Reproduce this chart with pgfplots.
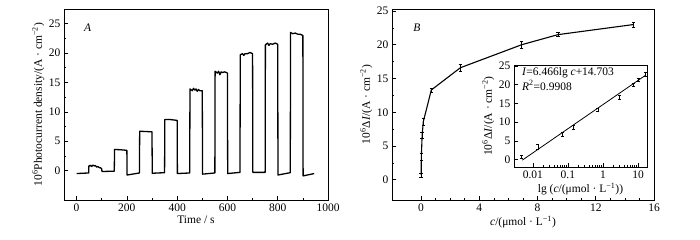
\documentclass[border=0pt]{standalone}
\usepackage{pgfplots}
\pgfplotsset{compat=1.18}
\usepackage{fontspec}
\setmainfont{Liberation Serif}
\begin{document}
\begin{tikzpicture}
\path[use as bounding box] (0pt,0pt) rectangle (700pt,240pt);
\pgfplotsset{every axis/.append style={scale only axis,
  font=\fontsize{11.5}{13}\selectfont,
  tick align=inside, tick pos=left,
  axis line style={line width=0.8pt},
  major tick length=3.5pt, minor tick length=2pt,
  every tick/.style={black, line width=0.6pt},
  /pgf/number format/assume math mode=true,
  /pgf/number format/1000 sep={},
  xlabel style={inner sep=1pt}, ylabel style={inner sep=1pt}}}
% Panel A
\begin{axis}[at={(64pt,40pt)}, anchor=south west, width=264pt, height=191pt,
  xmin=-50, xmax=1000, ymin=-5, ymax=27.5,
  xtick={0,200,...,1000}, ytick={0,5,...,25},
  minor x tick num=1, minor y tick num=1,
  xlabel={Time / s},
  ylabel={10\textsuperscript{6}Photocurrent density/(A · cm\textsuperscript{−2})}]
\addplot[black, line width=1.3pt, line join=round] coordinates {
(0,-0.5)(48,-0.4)(49,0.8)(55,0.9)(60,0.7)(65,0.95)(70,0.8)(75,0.85)(80,0.6)(85,0.7)(90,0.5)(95,0.5)(100,0.3)
(101,-0.15)(150,-0.1)(151,3.6)(175,3.55)(200,3.45)
(201,-0.75)(250,-0.4)(251,6.7)(300,6.6)
(301,-0.45)(350,-0.35)(351,8.7)(370,8.7)(400,8.55)
(401,-0.5)(450,-0.4)(451,13.9)(460,13.6)(465,14.0)(470,13.7)(475,13.9)(480,13.5)(485,13.8)(490,13.6)(500,13.6)
(501,-0.6)(550,-0.4)(551,16.9)(560,16.6)(565,16.9)(570,16.3)(575,16.8)(580,16.7)(590,16.8)(600,16.6)
(601,-0.5)(650,-0.3)(651,19.7)(660,19.9)(665,19.6)(670,19.9)(680,19.9)(690,20.1)(700,19.9)
(701,-0.3)(750,-0.3)(751,21.4)(760,21.7)(765,21.3)(770,21.6)(780,21.5)(790,21.7)(800,21.5)
(801,-0.75)(850,-0.35)(851,23.5)(860,23.3)(870,23.4)(880,23.2)(890,23.2)(900,23.0)
(901,-0.9)(945,-0.5)};
\node[font=\itshape\fontsize{11.5}{13}\selectfont] at (rel axis cs:0.09,0.90) {A};
\end{axis}
% Panel B
\begin{axis}[at={(392pt,40pt)}, anchor=south west, width=262pt, height=191pt,
  xmin=-2, xmax=16, ymin=-3, ymax=25.3,
  xtick={0,4,...,16}, ytick={0,5,...,25},
  minor x tick num=3, minor y tick num=1,
  xlabel={\textit{c}/(μmol · L\textsuperscript{−1})},
  ylabel={10\textsuperscript{6}Δ\textit{I}/(A · cm\textsuperscript{−2})}]
\addplot[black, line width=1.1pt, mark=none,
  error bars/.cd, y dir=both, y explicit,
  error bar style={line width=0.6pt},
  error mark options={line width=0.6pt, mark size=1.8pt, rotate=90}]
  table[x=c, y=y, y error=e] {
c y e
0.005 0.7 0.3
0.015 3.4 0.5
0.07 6.6 0.4
0.15 8.6 0.5
0.7 13.3 0.3
2.7 16.6 0.5
6.9 20.0 0.5
9.4 21.5 0.3
14.6 23.0 0.4
};
\node[font=\itshape\fontsize{11.5}{13}\selectfont] at (rel axis cs:0.095,0.90) {B};
\end{axis}
% Inset
\begin{axis}[at={(514pt,73pt)}, anchor=south west, width=133pt, height=102pt,
  axis background/.style={fill=white},
  xmode=log, xmin=0.0029, xmax=18, ymin=-2, ymax=25.3,
  xtick={0.01,0.1,1,10}, xticklabels={0.01,0.1,1,10},
  ytick={0,5,...,25}, minor y tick num=0,
  xlabel={lg (\textit{c}/(μmol · L\textsuperscript{−1}))},
  ylabel={10\textsuperscript{6}Δ\textit{I}/(A · cm\textsuperscript{−2})}]
\addplot[black, line width=0.8pt] coordinates {(0.005,-0.17)(16,22.49)};
\addplot[draw=none, mark=none,
  error bars/.cd, y dir=both, y explicit,
  error bar style={line width=0.6pt, draw=black},
  error mark options={line width=0.6pt, mark size=1.5pt, rotate=90, draw=black}]
  table[x=c, y=y, y error=e] {
c y e
0.0046 0.7 0.4
0.014 3.4 0.6
0.068 6.8 0.5
0.14 8.7 0.5
0.72 13.3 0.3
2.9 16.6 0.6
7.2 20.0 0.5
10 21.3 0.4
16 22.9 0.5
};
\node[anchor=west, inner sep=0pt] at (rel axis cs:0.06,0.92) {\textit{I}=6.466lg \textit{c}+14.703};
\node[anchor=west, inner sep=0pt] at (rel axis cs:0.06,0.80) {\textit{R}\textsuperscript{2}=0.9908};
\end{axis}
\end{tikzpicture}
\end{document}
